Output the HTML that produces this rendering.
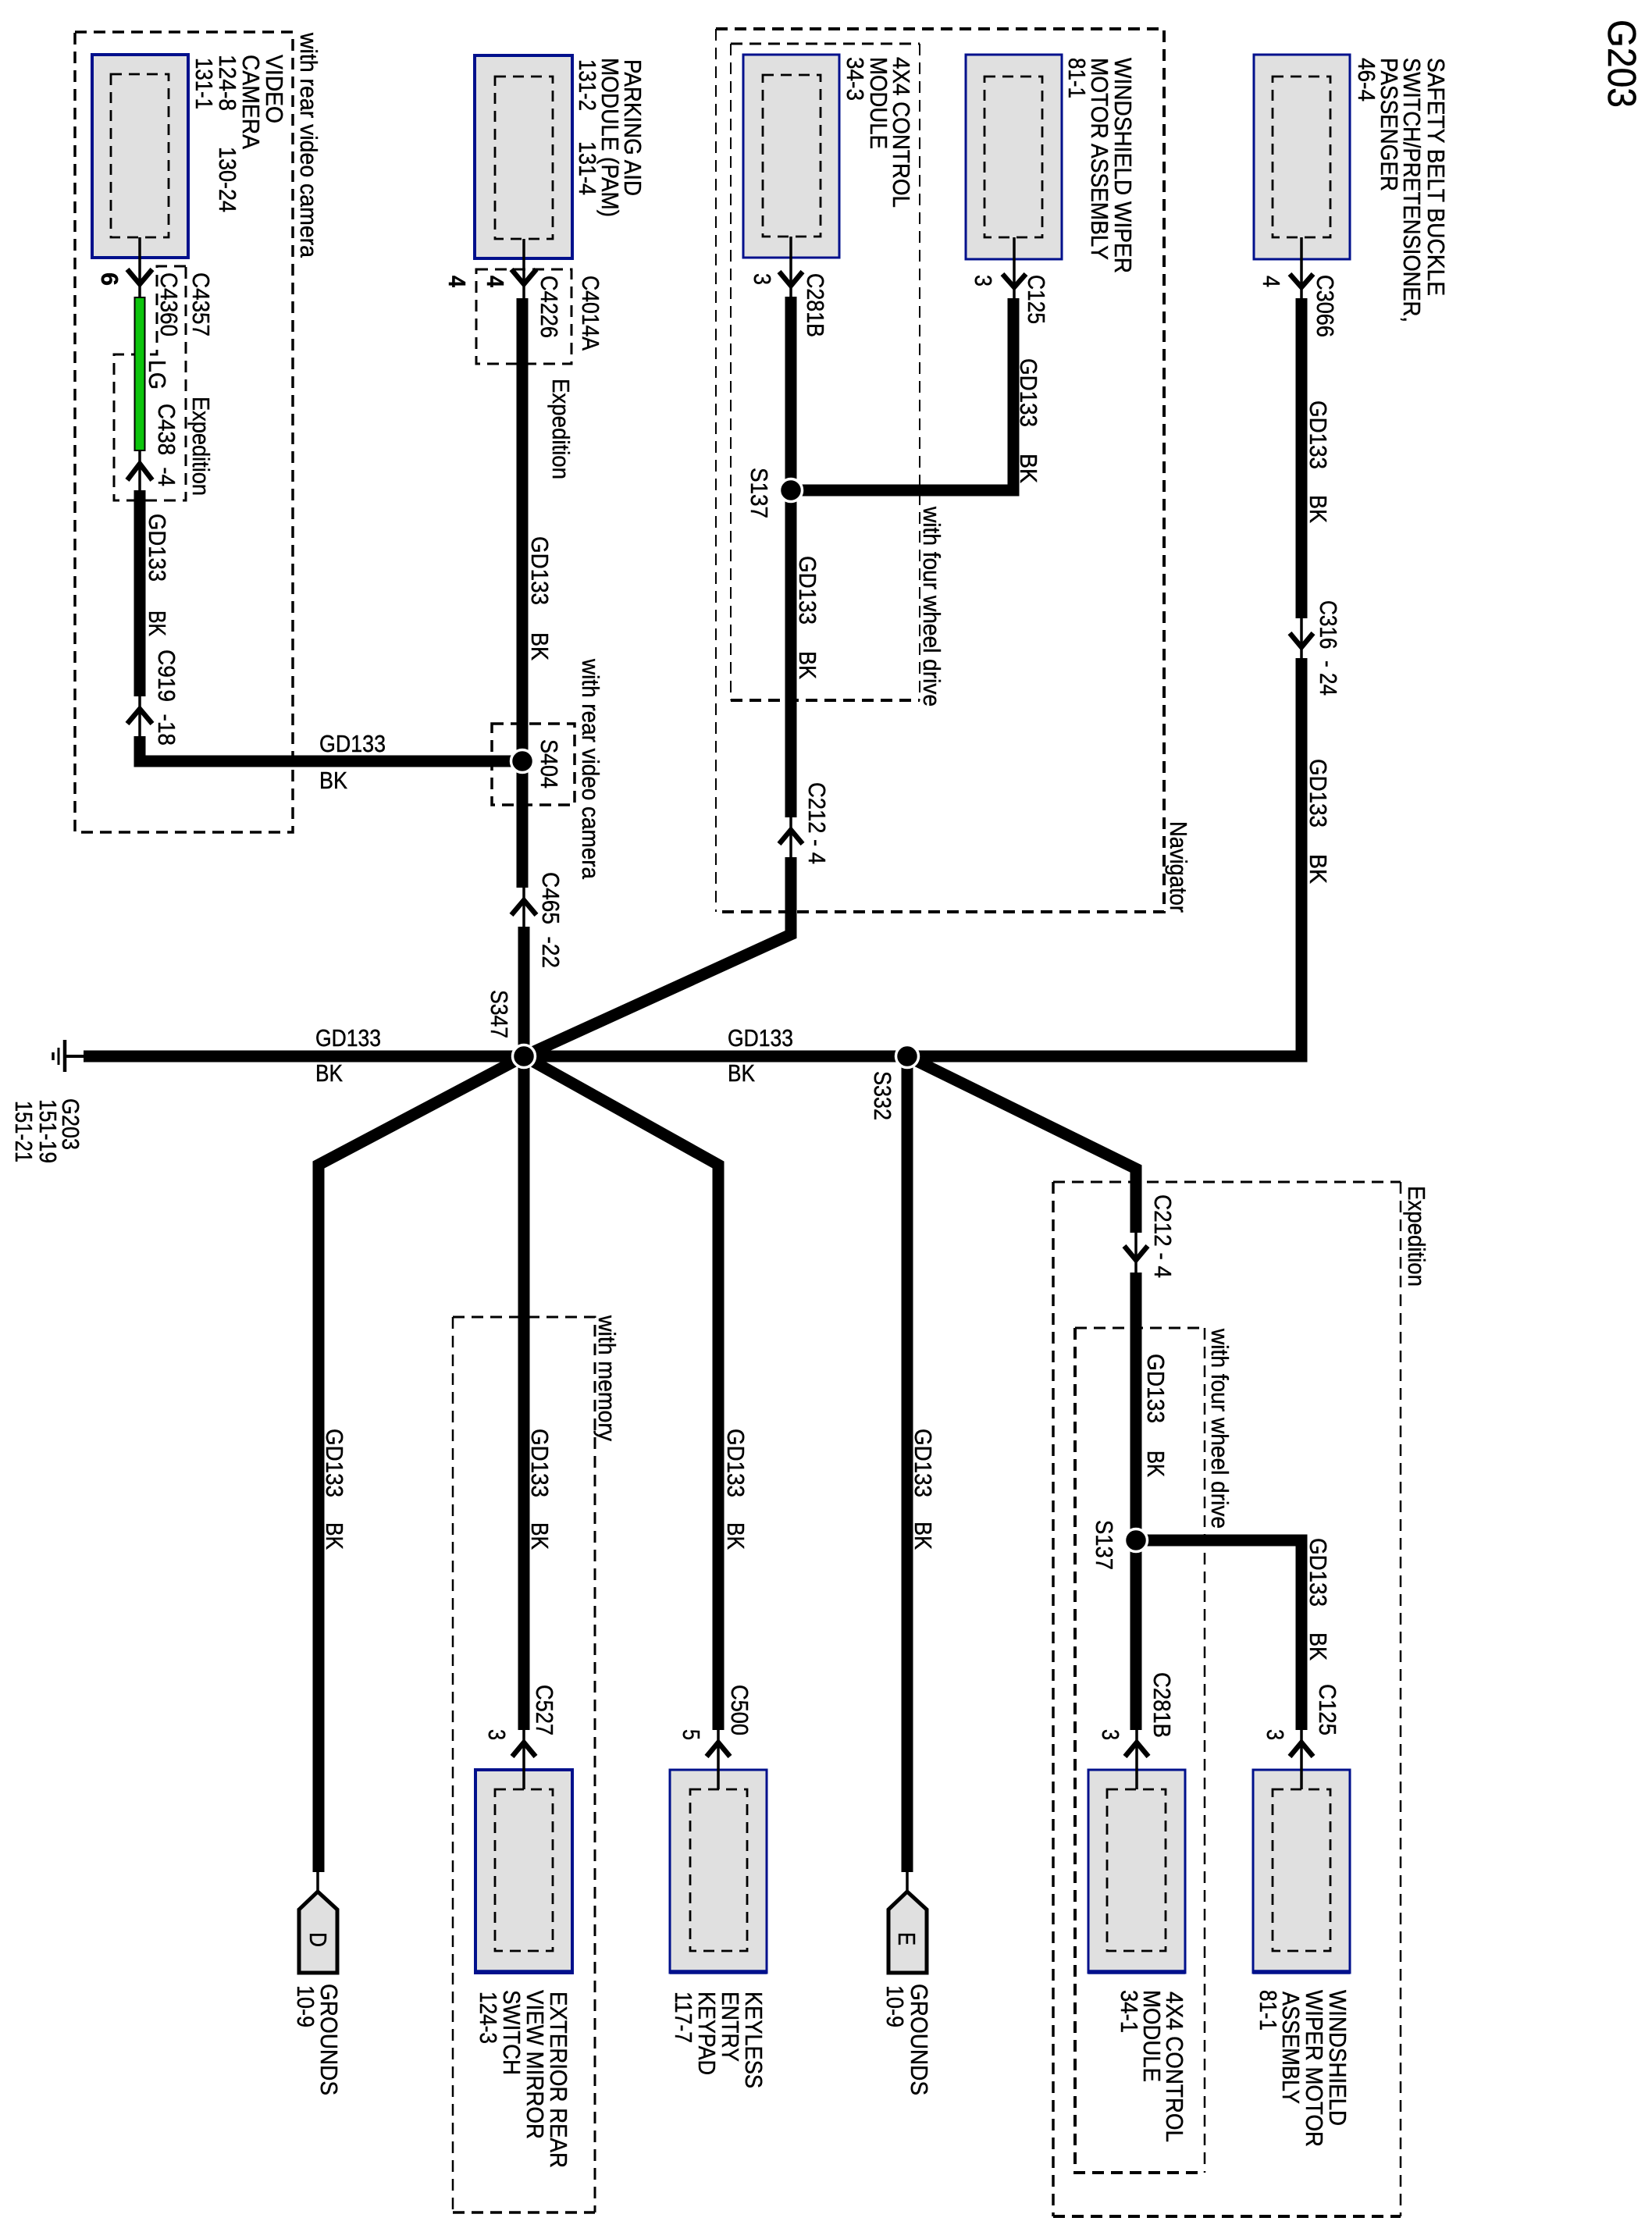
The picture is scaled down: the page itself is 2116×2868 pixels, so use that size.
<!DOCTYPE html>
<html><head><meta charset="utf-8"><title>G203</title>
<style>
html,body{margin:0;padding:0;background:#fff}
svg{display:block}
text{font-family:"Liberation Sans",sans-serif;font-size:31px;fill:#000;stroke:#000;stroke-width:.45}
.w{stroke:#000;fill:none;stroke-width:15;stroke-linejoin:miter;stroke-linecap:butt}
.t{stroke:#000;fill:none;stroke-width:3.5}
.a{stroke:#000;fill:none;stroke-width:6.5}
.d{stroke:#000;fill:none;stroke-width:3;stroke-dasharray:15 9}
.i{stroke:#000;fill:none;stroke-width:2.8;stroke-dasharray:14 9}
.m{fill:#e0e0e0;stroke:#00108c;stroke-width:3}
.mb{fill:#e0e0e0;stroke:#00108c;stroke-width:4}
.p{fill:#e0e0e0;stroke:#000;stroke-width:5}
.n{fill:#000;stroke:#fff;stroke-width:3.5}
</style></head><body>
<svg xmlns="http://www.w3.org/2000/svg" width="2116" height="2868" viewBox="0 0 2116 2868">
<rect width="2116" height="2868" fill="#fff"/>

<!-- option boxes -->
<rect class="d" x="96" y="41" width="279" height="1025" style="stroke-width:3.5"/>
<path class="d" d="M238 341H201V454H146V641H238Z"/>
<rect class="d" x="610" y="345" width="122" height="121"/>
<rect class="d" x="630" y="927" width="106" height="104" style="stroke-width:3.5"/>
<path class="d" style="stroke-width:2" d="M917 37V1168"/>
<path class="d" style="stroke-width:4" d="M917 37H1491V1168H917"/>
<path class="d" style="stroke-width:2" d="M936 56V897M1178 56V897"/>
<path class="d" style="stroke-width:3" d="M936 56H1178"/>
<path class="d" style="stroke-width:4" d="M936 897H1178"/>
<path class="d" style="stroke-width:2.5" d="M580 1687V2834"/>
<path class="d" style="stroke-width:3" d="M580 1687H762V2834"/>
<path class="d" style="stroke-width:3.5" d="M580 2834H762"/>
<path class="d" style="stroke-width:3.5" d="M1349 1514V2839"/>
<path class="d" style="stroke-width:4" d="M1349 2839H1794"/>
<path class="d" style="stroke-width:3" d="M1349 1514H1794"/>
<path class="d" style="stroke-width:2.5" d="M1794 1514V2839"/>
<path class="d" style="stroke-width:4" d="M1377 1701V2783H1543"/>
<path class="d" style="stroke-width:3" d="M1377 1701H1543"/>
<path class="d" style="stroke-width:2.5" d="M1543 1701V2783"/>

<!-- modules -->
<rect class="mb" x="118" y="70" width="123" height="260"/><rect class="i" x="142" y="95" width="74" height="209"/>
<rect class="mb" x="608" y="71" width="125" height="260"/><rect class="i" x="634" y="98" width="74" height="208"/>
<rect class="m" x="952" y="70" width="123" height="260"/><rect class="i" x="977" y="96" width="74" height="207"/>
<rect class="m" x="1237" y="70" width="123" height="262"/><rect class="i" x="1261" y="98" width="74" height="206"/>
<rect class="m" x="1606" y="70" width="123" height="262"/><rect class="i" x="1630" y="98" width="74" height="206"/>
<rect class="mb" x="609" y="2267" width="124" height="260"/><rect class="i" x="634" y="2292" width="74" height="207"/>
<rect class="m" x="858" y="2267" width="124" height="260"/><rect class="i" x="884" y="2292" width="73" height="207"/>
<rect class="m" x="1394" y="2267" width="124" height="260"/><rect class="i" x="1418" y="2292" width="75" height="207"/>
<rect class="m" x="1605" y="2267" width="124" height="260"/><rect class="i" x="1630" y="2292" width="74" height="207"/>
<path d="M609 2526H733M858 2526H982M1394 2526H1518M1605 2526H1729" stroke="#00108c" stroke-width="5.5" fill="none"/>

<!-- thin stems -->
<path class="t" d="M179 304V382M179 577V628M179 892V943M671 306V382M671 1137V1187M1013 303V380M1013 1047V1098M1299 304V382M1667 304V382M1667 792V843M1455 1579V1630M671 2216V2292M920 2216V2292M1456 2216V2292M1667 2216V2292M407 2398V2424M1162 2398V2424"/>

<!-- thick wires -->
<path class="w" d="M179 628V892"/>
<path class="w" d="M179 943V975H669"/>
<path class="w" d="M669 382V1137"/>
<path class="w" d="M671 1187V2216"/>
<path class="w" d="M1013 380V1047"/>
<path class="w" d="M1013 628H1298V382"/>
<path class="w" d="M1013 1098V1197L671 1353"/>
<path class="w" d="M1667 382V792"/>
<path class="w" d="M1667 843V1353H107"/>
<path class="w" d="M671 1353L408 1492V2398"/>
<path class="w" d="M671 1353L920 1492V2216"/>
<path class="w" d="M1162 1353V2398"/>
<path class="w" d="M1162 1353L1455 1497V1579"/>
<path class="w" d="M1455 1630V2216"/>
<path class="w" d="M1455 1973H1667V2216"/>
<rect x="172.5" y="381" width="13" height="196" fill="#0cc40c" stroke="#000" stroke-width="2"/>

<!-- ground symbol -->
<path class="t" d="M82 1353H107" style="stroke-width:4"/>
<path d="M83 1332V1373" stroke="#000" stroke-width="4.5" fill="none"/>
<path d="M75 1342V1364" stroke="#000" stroke-width="3" fill="none"/>
<path d="M68 1348V1358" stroke="#000" stroke-width="3.5" fill="none"/>

<!-- connector arrows: down -->
<path class="a" d="M163 345L179 364L195 345"/>
<path class="a" d="M655 345L671 364L687 345"/>
<path class="a" d="M998 348L1013 366L1028 348"/>
<path class="a" d="M1284 351L1299 368L1314 351"/>
<path class="a" d="M1652 351L1667 368L1682 351"/>
<path class="a" d="M1652 811L1667 829L1682 811"/>
<path class="a" d="M1440 1596L1455 1614L1470 1596"/>
<!-- connector arrows: up -->
<path class="a" d="M163 615L179 594L195 615"/>
<path class="a" d="M163 927L179 908L195 927"/>
<path class="a" d="M655 1172L671 1153L687 1172"/>
<path class="a" d="M998 1081L1013 1063L1028 1081"/>
<path class="a" d="M656 2250L671 2232L686 2250"/>
<path class="a" d="M905 2250L920 2232L935 2250"/>
<path class="a" d="M1441 2250L1456 2232L1471 2250"/>
<path class="a" d="M1652 2250L1667 2232L1682 2250"/>

<!-- ground pentagons -->
<path class="p" d="M383 2527V2446L407 2423L432 2446V2527Z"/>
<path class="p" d="M1138 2527V2446L1162 2423L1187 2446V2527Z"/>

<!-- splices -->
<circle class="n" cx="669" cy="975" r="14.5"/>
<circle class="n" cx="671" cy="1353" r="14.5"/>
<circle class="n" cx="1162" cy="1353" r="14.5"/>
<circle class="n" cx="1013" cy="628" r="14.5"/>
<circle class="n" cx="1455" cy="1973" r="14.5"/>

<!-- vertical labels -->
<text transform="translate(385,42)rotate(90)" textLength="288" lengthAdjust="spacingAndGlyphs">with rear video camera</text>
<text transform="translate(341,70)rotate(90)" textLength="88" lengthAdjust="spacingAndGlyphs">VIDEO</text>
<text transform="translate(311,70)rotate(90)" textLength="121" lengthAdjust="spacingAndGlyphs">CAMERA</text>
<text transform="translate(281,70)rotate(90)" textLength="72" lengthAdjust="spacingAndGlyphs">124-8</text>
<text transform="translate(281,188)rotate(90)" textLength="84" lengthAdjust="spacingAndGlyphs">130-24</text>
<text transform="translate(251,74)rotate(90)" textLength="66" lengthAdjust="spacingAndGlyphs">131-1</text>
<text transform="translate(130,349)rotate(90)" textLength="17" lengthAdjust="spacingAndGlyphs" font-weight="bold">6</text>
<text transform="translate(247,349)rotate(90)" textLength="82" lengthAdjust="spacingAndGlyphs">C4357</text>
<text transform="translate(206,349)rotate(90)" textLength="82" lengthAdjust="spacingAndGlyphs">C4360</text>
<text transform="translate(191,461)rotate(90)" textLength="38" lengthAdjust="spacingAndGlyphs">LG</text>
<text transform="translate(203,517)rotate(90)" textLength="106" lengthAdjust="spacingAndGlyphs" xml:space="preserve">C438  -4</text>
<text transform="translate(247,508)rotate(90)" textLength="127" lengthAdjust="spacingAndGlyphs">Expedition</text>
<text transform="translate(191,658)rotate(90)" textLength="87" lengthAdjust="spacingAndGlyphs">GD133</text>
<text transform="translate(191,782)rotate(90)" textLength="33" lengthAdjust="spacingAndGlyphs">BK</text>
<text transform="translate(203,832)rotate(90)" textLength="123" lengthAdjust="spacingAndGlyphs" xml:space="preserve">C919  -18</text>

<text transform="translate(800,76)rotate(90)" textLength="175" lengthAdjust="spacingAndGlyphs">PARKING AID</text>
<text transform="translate(771,74)rotate(90)" textLength="204" lengthAdjust="spacingAndGlyphs">MODULE (PAM)</text>
<text transform="translate(742,76)rotate(90)" textLength="66" lengthAdjust="spacingAndGlyphs">131-2</text>
<text transform="translate(742,181)rotate(90)" textLength="69" lengthAdjust="spacingAndGlyphs">131-4</text>
<text transform="translate(575,353)rotate(90)" textLength="15" lengthAdjust="spacingAndGlyphs" font-weight="bold">4</text>
<text transform="translate(624,353)rotate(90)" textLength="15" lengthAdjust="spacingAndGlyphs" font-weight="bold">4</text>
<text transform="translate(746,353)rotate(90)" textLength="96" lengthAdjust="spacingAndGlyphs">C4014A</text>
<text transform="translate(693,353)rotate(90)" textLength="80" lengthAdjust="spacingAndGlyphs">C4226</text>
<text transform="translate(708,485)rotate(90)" textLength="129" lengthAdjust="spacingAndGlyphs">Expedition</text>
<text transform="translate(681,687)rotate(90)" textLength="88" lengthAdjust="spacingAndGlyphs">GD133</text>
<text transform="translate(681,810)rotate(90)" textLength="36" lengthAdjust="spacingAndGlyphs">BK</text>
<text transform="translate(746,844)rotate(90)" textLength="282" lengthAdjust="spacingAndGlyphs">with rear video camera</text>
<text transform="translate(693,947)rotate(90)" textLength="63" lengthAdjust="spacingAndGlyphs">S404</text>
<text transform="translate(695,1117)rotate(90)" textLength="123" lengthAdjust="spacingAndGlyphs" xml:space="preserve">C465  -22</text>
<text transform="translate(629,1268)rotate(90)" textLength="62" lengthAdjust="spacingAndGlyphs">S347</text>

<text transform="translate(80,1407)rotate(90)" textLength="66" lengthAdjust="spacingAndGlyphs">G203</text>
<text transform="translate(51,1408)rotate(90)" textLength="82" lengthAdjust="spacingAndGlyphs">151-19</text>
<text transform="translate(20,1410)rotate(90)" textLength="79" lengthAdjust="spacingAndGlyphs">151-21</text>

<text transform="translate(418,1830)rotate(90)" textLength="88" lengthAdjust="spacingAndGlyphs">GD133</text>
<text transform="translate(418,1950)rotate(90)" textLength="35" lengthAdjust="spacingAndGlyphs">BK</text>
<text transform="translate(681,1830)rotate(90)" textLength="88" lengthAdjust="spacingAndGlyphs">GD133</text>
<text transform="translate(681,1950)rotate(90)" textLength="35" lengthAdjust="spacingAndGlyphs">BK</text>
<text transform="translate(932,1830)rotate(90)" textLength="88" lengthAdjust="spacingAndGlyphs">GD133</text>
<text transform="translate(932,1950)rotate(90)" textLength="35" lengthAdjust="spacingAndGlyphs">BK</text>
<text transform="translate(1172,1830)rotate(90)" textLength="88" lengthAdjust="spacingAndGlyphs">GD133</text>
<text transform="translate(1172,1949)rotate(90)" textLength="36" lengthAdjust="spacingAndGlyphs">BK</text>
<text transform="translate(767,1685)rotate(90)" textLength="161" lengthAdjust="spacingAndGlyphs">with memory</text>

<text transform="translate(2060,25)rotate(90)" textLength="113" lengthAdjust="spacingAndGlyphs" style="font-size:51px">G203</text>
<text transform="translate(1829,74)rotate(90)" textLength="305" lengthAdjust="spacingAndGlyphs">SAFETY BELT BUCKLE</text>
<text transform="translate(1798,74)rotate(90)" textLength="339" lengthAdjust="spacingAndGlyphs">SWITCH/PRETENSIONER,</text>
<text transform="translate(1769,74)rotate(90)" textLength="171" lengthAdjust="spacingAndGlyphs">PASSENGER</text>
<text transform="translate(1740,74)rotate(90)" textLength="56" lengthAdjust="spacingAndGlyphs">46-4</text>
<text transform="translate(1618,353)rotate(90)" textLength="15" lengthAdjust="spacingAndGlyphs">4</text>
<text transform="translate(1687,352)rotate(90)" textLength="80" lengthAdjust="spacingAndGlyphs">C3066</text>
<text transform="translate(1678,513)rotate(90)" textLength="88" lengthAdjust="spacingAndGlyphs">GD133</text>
<text transform="translate(1678,634)rotate(90)" textLength="36" lengthAdjust="spacingAndGlyphs">BK</text>
<text transform="translate(1691,769)rotate(90)" textLength="122" lengthAdjust="spacingAndGlyphs" xml:space="preserve">C316  - 24</text>
<text transform="translate(1678,972)rotate(90)" textLength="88" lengthAdjust="spacingAndGlyphs">GD133</text>
<text transform="translate(1678,1094)rotate(90)" textLength="38" lengthAdjust="spacingAndGlyphs">BK</text>

<text transform="translate(1428,74)rotate(90)" textLength="276" lengthAdjust="spacingAndGlyphs">WINDSHIELD WIPER</text>
<text transform="translate(1398,74)rotate(90)" textLength="259" lengthAdjust="spacingAndGlyphs">MOTOR ASSEMBLY</text>
<text transform="translate(1369,74)rotate(90)" textLength="52" lengthAdjust="spacingAndGlyphs">81-1</text>
<text transform="translate(1249,352)rotate(90)" textLength="15" lengthAdjust="spacingAndGlyphs">3</text>
<text transform="translate(1317,352)rotate(90)" textLength="63" lengthAdjust="spacingAndGlyphs">C125</text>
<text transform="translate(1307,459)rotate(90)" textLength="88" lengthAdjust="spacingAndGlyphs">GD133</text>
<text transform="translate(1307,581)rotate(90)" textLength="38" lengthAdjust="spacingAndGlyphs">BK</text>

<text transform="translate(1144,73)rotate(90)" textLength="193" lengthAdjust="spacingAndGlyphs">4X4 CONTROL</text>
<text transform="translate(1115,73)rotate(90)" textLength="118" lengthAdjust="spacingAndGlyphs">MODULE</text>
<text transform="translate(1085,73)rotate(90)" textLength="56" lengthAdjust="spacingAndGlyphs">34-3</text>
<text transform="translate(966,350)rotate(90)" textLength="15" lengthAdjust="spacingAndGlyphs">3</text>
<text transform="translate(1034,350)rotate(90)" textLength="82" lengthAdjust="spacingAndGlyphs">C281B</text>
<text transform="translate(962,599)rotate(90)" textLength="65" lengthAdjust="spacingAndGlyphs">S137</text>
<text transform="translate(1024,712)rotate(90)" textLength="88" lengthAdjust="spacingAndGlyphs">GD133</text>
<text transform="translate(1024,834)rotate(90)" textLength="36" lengthAdjust="spacingAndGlyphs">BK</text>
<text transform="translate(1183,649)rotate(90)" textLength="256" lengthAdjust="spacingAndGlyphs">with four wheel drive</text>
<text transform="translate(1036,1002)rotate(90)" textLength="105" lengthAdjust="spacingAndGlyphs" xml:space="preserve">C212 - 4</text>
<text transform="translate(1499,1052)rotate(90)" textLength="117" lengthAdjust="spacingAndGlyphs">Navigator</text>

<text transform="translate(1120,1372)rotate(90)" textLength="63" lengthAdjust="spacingAndGlyphs">S332</text>
<text transform="translate(1804,1519)rotate(90)" textLength="129" lengthAdjust="spacingAndGlyphs">Expedition</text>
<text transform="translate(1479,1530)rotate(90)" textLength="107" lengthAdjust="spacingAndGlyphs" xml:space="preserve">C212 - 4</text>
<text transform="translate(1470,1734)rotate(90)" textLength="89" lengthAdjust="spacingAndGlyphs">GD133</text>
<text transform="translate(1470,1858)rotate(90)" textLength="34" lengthAdjust="spacingAndGlyphs">BK</text>
<text transform="translate(1552,1702)rotate(90)" textLength="256" lengthAdjust="spacingAndGlyphs">with four wheel drive</text>
<text transform="translate(1404,1947)rotate(90)" textLength="64" lengthAdjust="spacingAndGlyphs">S137</text>
<text transform="translate(1678,1970)rotate(90)" textLength="88" lengthAdjust="spacingAndGlyphs">GD133</text>
<text transform="translate(1678,2091)rotate(90)" textLength="36" lengthAdjust="spacingAndGlyphs">BK</text>

<text transform="translate(687,2158)rotate(90)" textLength="65" lengthAdjust="spacingAndGlyphs">C527</text>
<text transform="translate(626,2215)rotate(90)" textLength="14" lengthAdjust="spacingAndGlyphs">3</text>
<text transform="translate(705,2551)rotate(90)" textLength="226" lengthAdjust="spacingAndGlyphs">EXTERIOR REAR</text>
<text transform="translate(675,2549)rotate(90)" textLength="191" lengthAdjust="spacingAndGlyphs">VIEW MIRROR</text>
<text transform="translate(645,2549)rotate(90)" textLength="109" lengthAdjust="spacingAndGlyphs">SWITCH</text>
<text transform="translate(615,2551)rotate(90)" textLength="67" lengthAdjust="spacingAndGlyphs">124-3</text>

<text transform="translate(937,2158)rotate(90)" textLength="65" lengthAdjust="spacingAndGlyphs">C500</text>
<text transform="translate(875,2215)rotate(90)" textLength="14" lengthAdjust="spacingAndGlyphs">5</text>
<text transform="translate(955,2551)rotate(90)" textLength="124" lengthAdjust="spacingAndGlyphs">KEYLESS</text>
<text transform="translate(925,2551)rotate(90)" textLength="90" lengthAdjust="spacingAndGlyphs">ENTRY</text>
<text transform="translate(895,2551)rotate(90)" textLength="107" lengthAdjust="spacingAndGlyphs">KEYPAD</text>
<text transform="translate(865,2551)rotate(90)" textLength="66" lengthAdjust="spacingAndGlyphs">117-7</text>

<text transform="translate(397,2475)rotate(90)" textLength="19" lengthAdjust="spacingAndGlyphs">D</text>
<text transform="translate(411,2541)rotate(90)" textLength="143" lengthAdjust="spacingAndGlyphs">GROUNDS</text>
<text transform="translate(381,2543)rotate(90)" textLength="54" lengthAdjust="spacingAndGlyphs">10-9</text>
<text transform="translate(1151,2475)rotate(90)" textLength="17" lengthAdjust="spacingAndGlyphs">E</text>
<text transform="translate(1167,2541)rotate(90)" textLength="143" lengthAdjust="spacingAndGlyphs">GROUNDS</text>
<text transform="translate(1136,2543)rotate(90)" textLength="54" lengthAdjust="spacingAndGlyphs">10-9</text>

<text transform="translate(1478,2142)rotate(90)" textLength="84" lengthAdjust="spacingAndGlyphs">C281B</text>
<text transform="translate(1412,2215)rotate(90)" textLength="14" lengthAdjust="spacingAndGlyphs">3</text>
<text transform="translate(1690,2157)rotate(90)" textLength="66" lengthAdjust="spacingAndGlyphs">C125</text>
<text transform="translate(1623,2215)rotate(90)" textLength="14" lengthAdjust="spacingAndGlyphs">3</text>
<text transform="translate(1494,2551)rotate(90)" textLength="193" lengthAdjust="spacingAndGlyphs">4X4 CONTROL</text>
<text transform="translate(1465,2549)rotate(90)" textLength="118" lengthAdjust="spacingAndGlyphs">MODULE</text>
<text transform="translate(1436,2549)rotate(90)" textLength="55" lengthAdjust="spacingAndGlyphs">34-1</text>
<text transform="translate(1703,2549)rotate(90)" textLength="174" lengthAdjust="spacingAndGlyphs">WINDSHIELD</text>
<text transform="translate(1673,2549)rotate(90)" textLength="201" lengthAdjust="spacingAndGlyphs">WIPER MOTOR</text>
<text transform="translate(1643,2551)rotate(90)" textLength="144" lengthAdjust="spacingAndGlyphs">ASSEMBLY</text>
<text transform="translate(1614,2549)rotate(90)" textLength="52" lengthAdjust="spacingAndGlyphs">81-1</text>

<!-- horizontal labels -->
<text x="409" y="963" textLength="85" lengthAdjust="spacingAndGlyphs">GD133</text>
<text x="409" y="1010" textLength="36" lengthAdjust="spacingAndGlyphs">BK</text>
<text x="404" y="1340" textLength="84" lengthAdjust="spacingAndGlyphs">GD133</text>
<text x="404" y="1385" textLength="35" lengthAdjust="spacingAndGlyphs">BK</text>
<text x="932" y="1340" textLength="84" lengthAdjust="spacingAndGlyphs">GD133</text>
<text x="932" y="1385" textLength="35" lengthAdjust="spacingAndGlyphs">BK</text>
</svg>
</body></html>
